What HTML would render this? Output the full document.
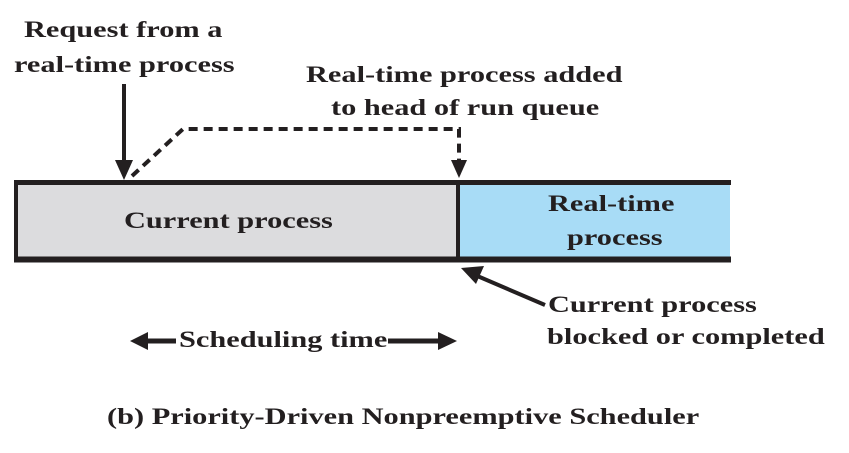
<!DOCTYPE html>
<html><head><style>
body{margin:0;background:#fff;width:849px;height:453px;overflow:hidden;position:relative;font-family:"Liberation Serif",serif;font-weight:bold;color:#231f20}
.t{position:absolute;font-size:23px;line-height:25px;white-space:nowrap;transform:scaleX(1.32);transform-origin:0 0}
</style></head><body>
<svg width="849" height="453" style="position:absolute;left:0;top:0">
<rect x="16" y="182" width="442" height="78" fill="#dcdcde"/>
<rect x="458" y="182" width="272" height="78" fill="#a8dcf6"/>
<line x1="14" y1="182.5" x2="731" y2="182.5" stroke="#231f20" stroke-width="5"/>
<line x1="14" y1="259.5" x2="731" y2="259.5" stroke="#231f20" stroke-width="6"/>
<line x1="16" y1="180" x2="16" y2="262" stroke="#231f20" stroke-width="4"/>
<line x1="458" y1="180" x2="458" y2="262" stroke="#231f20" stroke-width="4"/>
<line x1="124" y1="84" x2="124" y2="165" stroke="#231f20" stroke-width="4"/>
<polygon points="115,160 133,160 124,180" fill="#231f20"/>
<polyline points="132,176 183,129 459,129 459,165" fill="none" stroke="#231f20" stroke-width="4" stroke-dasharray="9,6"/>
<polygon points="451,160 467,160 459,178" fill="#231f20"/>
<line x1="545" y1="305" x2="475" y2="275" stroke="#231f20" stroke-width="4"/>
<polygon points="461,268 484,266 476,284" fill="#231f20"/>
<polygon points="130,341 148,332 148,350" fill="#231f20"/>
<line x1="146" y1="341" x2="176" y2="341" stroke="#231f20" stroke-width="5"/>
<line x1="388" y1="341" x2="440" y2="341" stroke="#231f20" stroke-width="5"/>
<polygon points="457,341 438,332 438,350" fill="#231f20"/>
</svg>
<div class="t" style="left:24px;top:17px">Request from a</div>
<div class="t" style="left:14px;top:52px">real-time process</div>
<div class="t" style="left:306px;top:62px">Real-time process added</div>
<div class="t" style="left:331px;top:95px">to head of run queue</div>
<div class="t" style="left:124px;top:208px">Current process</div>
<div class="t" style="left:548px;top:191px">Real-time</div>
<div class="t" style="left:567px;top:225px">process</div>
<div class="t" style="left:548px;top:292px">Current process</div>
<div class="t" style="left:547px;top:324px">blocked or completed</div>
<div class="t" style="left:179px;top:327px">Scheduling time</div>
<div class="t" style="left:107px;top:404px">(b) Priority-Driven Nonpreemptive Scheduler</div>
</body></html>
